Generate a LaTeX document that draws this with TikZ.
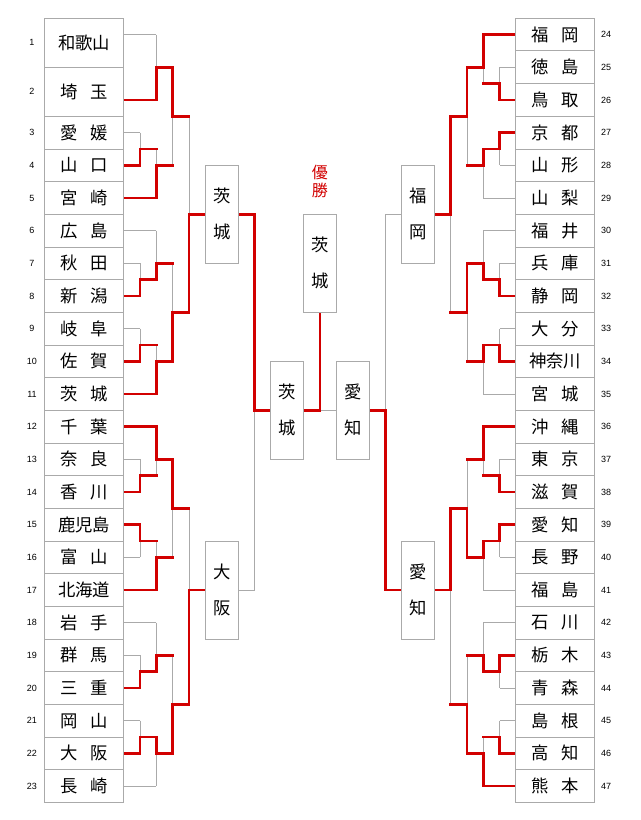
\documentclass[tikz,border=0pt]{standalone}
\usepackage{fontspec}
\newfontfamily\jp{Noto Sans CJK JP}
\newfontfamily\nums{Liberation Sans}
\definecolor{wred}{RGB}{210,0,0}
\definecolor{lgray}{RGB}{170,170,170}
\newif\ifredpass
\newcommand\sety[2]{\pgfmathsetmacro#1{18.333+32.667*(#2)}}
% entry line: xfrom, xto, s, r/g
\newcommand\entr[4]{\sety\yy{#3}%
  \ifx r#4\ifredpass\draw[rl] (#1,\yy) -- (#2,\yy);\fi\else\ifredpass\else\draw[gl] (#1,\yy) -- (#2,\yy);\fi\fi}
% match: x, xnext, top, bottom, out, winner
\newcommand\mtch[6]{\sety\ya{#3}\sety\yb{#4}\sety\yo{#5}\sety\yw{#6}%
  \ifredpass\draw[rl] (#1,\yw) -- (#1,\yo) -- (#2,\yo);\else\draw[gl] (#1,\ya) -- (#1,\yb);\fi}
\def\xLa{140}\def\xLb{156.33}\def\xLc{172.67}\def\xLd{189}\def\xLq{205.33}
\def\xRa{499.67}\def\xRb{483.33}\def\xRc{467}\def\xRd{450.67}\def\xRq{434.33}
\newcommand\bracketall{%
\entr{123.67}{\xLb}{0.5}{g}\entr{123.67}{\xLb}{2.5}{r}%
\entr{123.67}{\xLa}{3.5}{g}\entr{123.67}{\xLa}{4.5}{r}\entr{123.67}{\xLb}{5.5}{r}%
\entr{123.67}{\xLb}{6.5}{g}\entr{123.67}{\xLa}{7.5}{g}\entr{123.67}{\xLa}{8.5}{r}%
\entr{123.67}{\xLa}{9.5}{g}\entr{123.67}{\xLa}{10.5}{r}\entr{123.67}{\xLb}{11.5}{r}%
\entr{123.67}{\xLb}{12.5}{r}\entr{123.67}{\xLa}{13.5}{g}\entr{123.67}{\xLa}{14.5}{r}%
\entr{123.67}{\xLa}{15.5}{r}\entr{123.67}{\xLa}{16.5}{g}\entr{123.67}{\xLb}{17.5}{r}%
\entr{123.67}{\xLb}{18.5}{g}\entr{123.67}{\xLa}{19.5}{g}\entr{123.67}{\xLa}{20.5}{r}%
\entr{123.67}{\xLa}{21.5}{g}\entr{123.67}{\xLa}{22.5}{r}\entr{123.67}{\xLb}{23.5}{g}%
\mtch{\xLb}{\xLc}{0.5}{2.5}{1.5}{2.5}%
\mtch{\xLa}{\xLb}{3.5}{4.5}{4}{4.5}%
\mtch{\xLb}{\xLc}{4}{5.5}{4.5}{5.5}%
\mtch{\xLc}{\xLd}{1.5}{4.5}{3}{1.5}%
\mtch{\xLa}{\xLb}{7.5}{8.5}{8}{8.5}%
\mtch{\xLb}{\xLc}{6.5}{8}{7.5}{8}%
\mtch{\xLa}{\xLb}{9.5}{10.5}{10}{10.5}%
\mtch{\xLb}{\xLc}{10}{11.5}{10.5}{11.5}%
\mtch{\xLc}{\xLd}{7.5}{10.5}{9}{10.5}%
\mtch{\xLd}{\xLq}{3}{9}{6}{9}%
\mtch{\xLa}{\xLb}{13.5}{14.5}{14}{14.5}%
\mtch{\xLb}{\xLc}{12.5}{14}{13.5}{12.5}%
\mtch{\xLa}{\xLb}{15.5}{16.5}{16}{15.5}%
\mtch{\xLb}{\xLc}{16}{17.5}{16.5}{17.5}%
\mtch{\xLc}{\xLd}{13.5}{16.5}{15}{13.5}%
\mtch{\xLa}{\xLb}{19.5}{20.5}{20}{20.5}%
\mtch{\xLb}{\xLc}{18.5}{20}{19.5}{20}%
\mtch{\xLa}{\xLb}{21.5}{22.5}{22}{22.5}%
\mtch{\xLb}{\xLc}{22}{23.5}{22.5}{22}%
\mtch{\xLc}{\xLd}{19.5}{22.5}{21}{22.5}%
\mtch{\xLd}{\xLq}{15}{21}{17.5}{21}%
\entr{516}{\xRb}{0.5}{r}\entr{516}{\xRa}{1.5}{g}\entr{516}{\xRa}{2.5}{r}%
\entr{516}{\xRa}{3.5}{r}\entr{516}{\xRa}{4.5}{g}\entr{516}{\xRb}{5.5}{g}%
\entr{516}{\xRb}{6.5}{g}\entr{516}{\xRa}{7.5}{g}\entr{516}{\xRa}{8.5}{r}%
\entr{516}{\xRa}{9.5}{g}\entr{516}{\xRa}{10.5}{r}\entr{516}{\xRb}{11.5}{g}%
\entr{516}{\xRb}{12.5}{r}\entr{516}{\xRa}{13.5}{g}\entr{516}{\xRa}{14.5}{r}%
\entr{516}{\xRa}{15.5}{r}\entr{516}{\xRa}{16.5}{g}\entr{516}{\xRb}{17.5}{g}%
\entr{516}{\xRb}{18.5}{g}\entr{516}{\xRa}{19.5}{r}\entr{516}{\xRa}{20.5}{g}%
\entr{516}{\xRa}{21.5}{g}\entr{516}{\xRa}{22.5}{r}\entr{516}{\xRb}{23.5}{r}%
\mtch{\xRa}{\xRb}{1.5}{2.5}{2}{2.5}%
\mtch{\xRb}{\xRc}{0.5}{2}{1.5}{0.5}%
\mtch{\xRa}{\xRb}{3.5}{4.5}{4}{3.5}%
\mtch{\xRb}{\xRc}{4}{5.5}{4.5}{4}%
\mtch{\xRc}{\xRd}{1.5}{4.5}{3}{1.5}%
\mtch{\xRa}{\xRb}{7.5}{8.5}{8}{8.5}%
\mtch{\xRb}{\xRc}{6.5}{8}{7.5}{8}%
\mtch{\xRa}{\xRb}{9.5}{10.5}{10}{10.5}%
\mtch{\xRb}{\xRc}{10}{11.5}{10.5}{10}%
\mtch{\xRc}{\xRd}{7.5}{10.5}{9}{7.5}%
\mtch{\xRd}{\xRq}{3}{9}{6}{3}%
\mtch{\xRa}{\xRb}{13.5}{14.5}{14}{14.5}%
\mtch{\xRb}{\xRc}{12.5}{14}{13.5}{12.5}%
\mtch{\xRa}{\xRb}{15.5}{16.5}{16}{15.5}%
\mtch{\xRb}{\xRc}{16}{17.5}{16.5}{16}%
\mtch{\xRc}{\xRd}{13.5}{16.5}{15}{16.5}%
\mtch{\xRa}{\xRb}{19.5}{20.5}{20}{19.5}%
\mtch{\xRb}{\xRc}{18.5}{20}{19.5}{20}%
\mtch{\xRa}{\xRb}{21.5}{22.5}{22}{22.5}%
\mtch{\xRb}{\xRc}{22}{23.5}{22.5}{23.5}%
\mtch{\xRc}{\xRd}{19.5}{22.5}{21}{22.5}%
\mtch{\xRd}{\xRq}{15}{21}{17.5}{15}%
\entr{238.33}{254.67}{6}{r}\entr{238.33}{254.67}{17.5}{g}%
\mtch{254.67}{270.67}{6}{17.5}{12}{6}%
\entr{401.33}{385.67}{6}{g}\entr{401.33}{385.67}{17.5}{r}%
\mtch{385.67}{369.33}{6}{17.5}{12}{17.5}%
\ifredpass\draw[rl] (303.33,410.33) -- (319.83,410.33) -- (319.83,312.33);\else\draw[gl] (303.33,410.33) -- (336.33,410.33);\fi
}
\newcommand\two[2]{#1\hspace{9.5pt}#2}
\newcommand\LBox[4]{\sety\yy{#2}\node[namebox,minimum height=#3*24.5pt] (L#1) at (84.33,\yy) {#4}; \node[numtxt] (nL#1) at (32,\yy) {#1};}
\newcommand\RBox[2]{\sety\yy{#1-23.5}\node[namebox,minimum height=24.5pt] (R#1) at (555.17,\yy) {#2}; \node[numtxt] (nR#1) at (606,\yy) {#1};}
\begin{document}
\begin{tikzpicture}[x=0.75pt,y=-0.75pt,
  gl/.style={draw=lgray,line width=0.75pt},
  rl/.style={draw=wred,line width=1.95pt,line cap=rect,line join=miter},
  namebox/.style={draw=lgray,line width=0.75pt,fill=white,minimum width=59pt,inner sep=0pt,font=\jp\fontsize{13}{15}\selectfont},
  vbox/.style={draw=lgray,line width=0.75pt,fill=white,minimum width=24.75pt,minimum height=73.5pt,inner sep=0pt,align=center,font=\jp\fontsize{13}{27}\selectfont},
  numtxt/.style={font=\nums\fontsize{6.75}{8}\selectfont,inner sep=0pt},
  wintxt/.style={text=wred,align=center,inner sep=0pt,font=\jp\fontsize{12}{13.3}\selectfont}]
\fill[white] (0,0) rectangle (640,820);
\useasboundingbox (0,0) rectangle (640,820);
\redpassfalse\bracketall
\redpasstrue\bracketall
% left column
\LBox{1}{0.75}{1.5}{和歌山}
\LBox{2}{2.25}{1.5}{\two{埼}{玉}}
\LBox{3}{3.5}{1}{\two{愛}{媛}}
\LBox{4}{4.5}{1}{\two{山}{口}}
\LBox{5}{5.5}{1}{\two{宮}{崎}}
\LBox{6}{6.5}{1}{\two{広}{島}}
\LBox{7}{7.5}{1}{\two{秋}{田}}
\LBox{8}{8.5}{1}{\two{新}{潟}}
\LBox{9}{9.5}{1}{\two{岐}{阜}}
\LBox{10}{10.5}{1}{\two{佐}{賀}}
\LBox{11}{11.5}{1}{\two{茨}{城}}
\LBox{12}{12.5}{1}{\two{千}{葉}}
\LBox{13}{13.5}{1}{\two{奈}{良}}
\LBox{14}{14.5}{1}{\two{香}{川}}
\LBox{15}{15.5}{1}{鹿児島}
\LBox{16}{16.5}{1}{\two{富}{山}}
\LBox{17}{17.5}{1}{北海道}
\LBox{18}{18.5}{1}{\two{岩}{手}}
\LBox{19}{19.5}{1}{\two{群}{馬}}
\LBox{20}{20.5}{1}{\two{三}{重}}
\LBox{21}{21.5}{1}{\two{岡}{山}}
\LBox{22}{22.5}{1}{\two{大}{阪}}
\LBox{23}{23.5}{1}{\two{長}{崎}}
% right column
\RBox{24}{\two{福}{岡}}
\RBox{25}{\two{徳}{島}}
\RBox{26}{\two{鳥}{取}}
\RBox{27}{\two{京}{都}}
\RBox{28}{\two{山}{形}}
\RBox{29}{\two{山}{梨}}
\RBox{30}{\two{福}{井}}
\RBox{31}{\two{兵}{庫}}
\RBox{32}{\two{静}{岡}}
\RBox{33}{\two{大}{分}}
\RBox{34}{神奈川}
\RBox{35}{\two{宮}{城}}
\RBox{36}{\two{沖}{縄}}
\RBox{37}{\two{東}{京}}
\RBox{38}{\two{滋}{賀}}
\RBox{39}{\two{愛}{知}}
\RBox{40}{\two{長}{野}}
\RBox{41}{\two{福}{島}}
\RBox{42}{\two{石}{川}}
\RBox{43}{\two{栃}{木}}
\RBox{44}{\two{青}{森}}
\RBox{45}{\two{島}{根}}
\RBox{46}{\two{高}{知}}
\RBox{47}{\two{熊}{本}}
% round boxes
\node[vbox] (QL1) at (221.83,214.33) {茨\\城};
\node[vbox] (QL2) at (221.83,590.0) {大\\阪};
\node[vbox] (QR1) at (417.83,214.33) {福\\岡};
\node[vbox] (QR2) at (417.83,590.0) {愛\\知};
\node[vbox] (SL) at (287,410.33) {茨\\城};
\node[vbox] (SR) at (352.83,410.33) {愛\\知};
\node[vbox] (F) at (319.83,263.33) {茨\\城};
\node[wintxt] (win) at (319.83,181.8) {優\\勝};
\end{tikzpicture}
\end{document}
